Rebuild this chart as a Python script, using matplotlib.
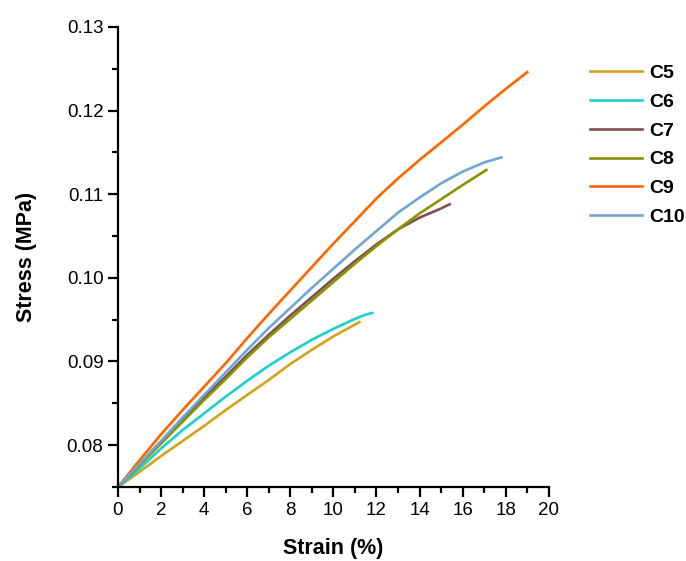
import matplotlib
matplotlib.use('Agg')
import matplotlib.pyplot as plt
import matplotlib.ticker as mticker

plt.rcParams['font.family'] = ['Liberation Sans', 'DejaVu Sans']

# strain (%) / stress (MPa)
c5_x = [0, 1, 2, 3, 4, 5, 6, 7, 8, 9, 10, 10.7, 11.2]
c5_y = [0.0750, 0.0768, 0.0787, 0.0805, 0.0823, 0.0842, 0.0860, 0.0878, 0.0897, 0.0914, 0.0930, 0.0940, 0.0947]

c6_x = [0, 1, 2, 3, 4, 5, 6, 7, 8, 9, 10, 11, 11.5, 11.8]
c6_y = [0.0750, 0.0772, 0.0796, 0.0818, 0.0838, 0.0858, 0.0877, 0.0895, 0.0911, 0.0926, 0.0939, 0.0951, 0.0956, 0.0958]

c7_x = [0, 1, 2, 3, 4, 5, 6, 7, 8, 9, 10, 11, 12, 13, 14, 15, 15.4]
c7_y = [0.0750, 0.0777, 0.0804, 0.0831, 0.0857, 0.0882, 0.0908, 0.0932, 0.0955, 0.0977, 0.0999,
        0.1020, 0.1040, 0.1058, 0.1072, 0.1083, 0.1088]

c8_x = [0, 1, 2, 3, 4, 5, 6, 7, 8, 9, 10, 11, 12, 13, 14, 15, 16, 17.1]
c8_y = [0.0750, 0.0776, 0.0802, 0.0828, 0.0854, 0.0879, 0.0905, 0.0929, 0.0951, 0.0973, 0.0995,
        0.1017, 0.1038, 0.1058, 0.1077, 0.1094, 0.1111, 0.1129]

c9_x = [0, 1, 2, 3, 4, 5, 6, 7, 8, 9, 10, 11, 12, 13, 14, 15, 16, 17, 18, 19]
c9_y = [0.0750, 0.0782, 0.0813, 0.0842, 0.0870, 0.0898, 0.0928, 0.0957, 0.0985, 0.1013, 0.1041,
        0.1068, 0.1095, 0.1119, 0.1141, 0.1162, 0.1183, 0.1205, 0.1226, 0.1246]

c10_x = [0, 1, 2, 3, 4, 5, 6, 7, 8, 9, 10, 11, 12, 13, 14, 15, 16, 17, 17.8]
c10_y = [0.0750, 0.0778, 0.0805, 0.0833, 0.0860, 0.0887, 0.0914, 0.0940, 0.0964, 0.0988, 0.1011,
         0.1034, 0.1056, 0.1078, 0.1096, 0.1113, 0.1127, 0.1138, 0.1144]

series = [
    ('C5', c5_x, c5_y, '#D4A21A'),
    ('C6', c6_x, c6_y, '#1CCFCF'),
    ('C7', c7_x, c7_y, '#7E5050'),
    ('C8', c8_x, c8_y, '#8A9200'),
    ('C9', c9_x, c9_y, '#FF6600'),
    ('C10', c10_x, c10_y, '#6FA6D6'),
]

fig = plt.figure(figsize=(6.86, 5.61), dpi=100)
ax = fig.add_axes([0.172, 0.132, 0.628, 0.820])

for name, xs, ys, col in series:
    ax.plot(xs, ys, color=col, lw=1.9, label=name)

ax.set_xlim(0, 20)
ax.set_ylim(0.075, 0.13)
ax.xaxis.set_major_locator(mticker.MultipleLocator(2))
ax.xaxis.set_minor_locator(mticker.MultipleLocator(1))
ax.yaxis.set_major_locator(mticker.FixedLocator([0.08, 0.09, 0.10, 0.11, 0.12, 0.13]))
ax.yaxis.set_minor_locator(mticker.MultipleLocator(0.005))
ax.yaxis.set_major_formatter(mticker.FuncFormatter(lambda v, p: f'{v:.2f}'))

for s in ['top', 'right']:
    ax.spines[s].set_visible(False)
for s in ['left', 'bottom']:
    ax.spines[s].set_linewidth(1.6)
ax.tick_params(which='major', direction='out', length=7.5, width=1.6, labelsize=13.5, pad=3)
ax.tick_params(which='minor', direction='out', length=4.5, width=1.6)

ax.set_xlabel('Strain (%)', fontsize=15.5, fontweight='bold', labelpad=14)
ax.set_ylabel('Stress (MPa)', fontsize=15.5, fontweight='bold', labelpad=21)

ax.legend(loc='upper left', bbox_to_anchor=(0.834, 0.916), bbox_transform=fig.transFigure,
          frameon=False, prop={'weight': 'bold', 'size': 14}, handlelength=2.7,
          handletextpad=0.35, labelspacing=0.57)

fig.savefig('out.png', dpi=100)
